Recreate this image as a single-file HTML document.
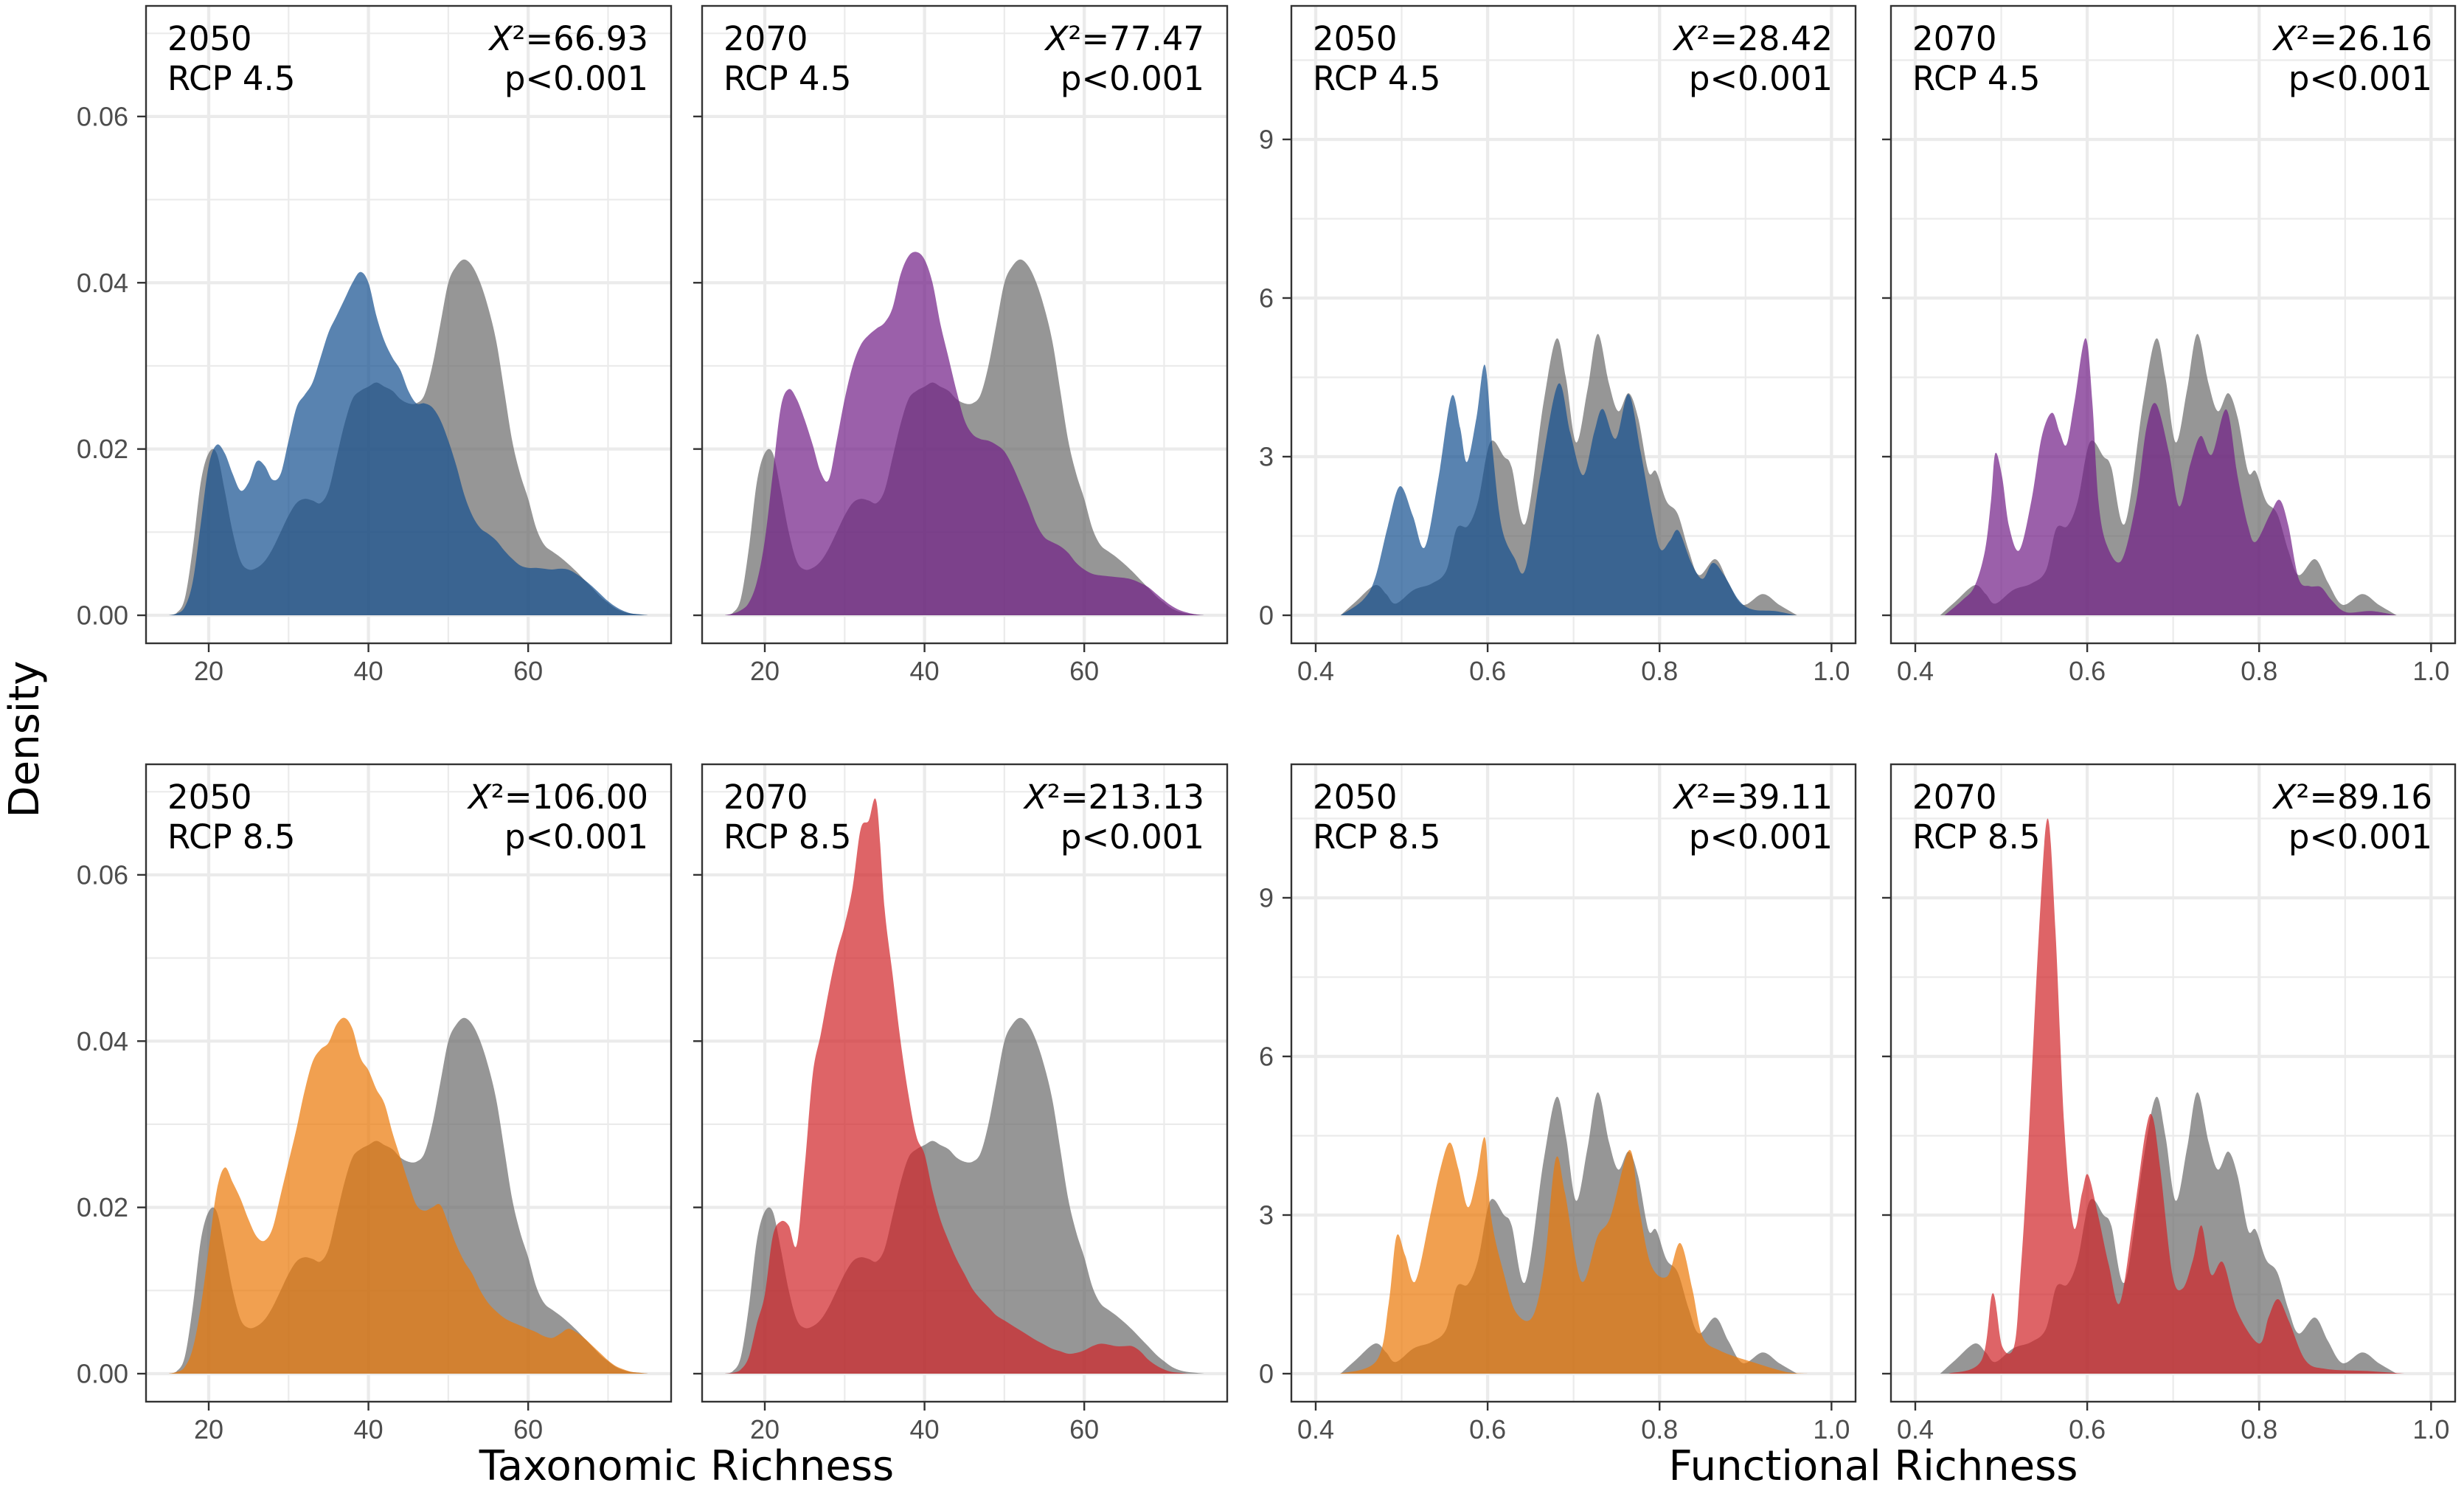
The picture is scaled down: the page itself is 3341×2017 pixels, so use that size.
<!DOCTYPE html>
<html><head><meta charset="utf-8"><style>
html,body{margin:0;padding:0;background:#fff;}
svg{display:block;}
</style></head><body>
<svg id="chart" width="3341" height="2017" viewBox="0 0 3341 2017" xmlns="http://www.w3.org/2000/svg">
<rect width="3341" height="2017" fill="#fff"/>
<g id="panels"></g>
<text x="931" y="2006" text-anchor="middle" font-family="DejaVu Sans, sans-serif" font-size="56" fill="#000">Taxonomic Richness</text>
<text x="2540" y="2006" text-anchor="middle" font-family="DejaVu Sans, sans-serif" font-size="56" fill="#000">Functional Richness</text>
<text x="0" y="0" transform="translate(52,1002) rotate(-90)" text-anchor="middle" font-family="DejaVu Sans, sans-serif" font-size="56" fill="#000">Density</text>
</svg>
<script>
const taxX = [15,16,17,18,19,20,21,22,23,24,25,26,27,28,29,30,31,32,33,34,35,36,37,38,39,40,41,42,43,44,45,46,47,48,49,50,51,52,53,54,55,56,57,58,59,60,61,62,63,64,65,66,67,68,69,70,71,72,73,74,75];
const taxBaseline = [0,0.0003,0.002,0.008,0.016,0.0195,0.0195,0.015,0.010,0.0065,0.0055,0.0057,0.0065,0.008,0.010,0.012,0.0135,0.014,0.0138,0.0135,0.015,0.019,0.023,0.026,0.027,0.0275,0.028,0.0275,0.027,0.026,0.0255,0.0255,0.0265,0.030,0.035,0.040,0.042,0.0428,0.042,0.040,0.037,0.033,0.027,0.021,0.017,0.014,0.0105,0.0085,0.0077,0.007,0.0062,0.0053,0.0043,0.0033,0.0023,0.0015,0.0008,0.0004,0.0002,0.0001,0];
const tax2050rcp45 = [0,0.0002,0.001,0.004,0.011,0.018,0.0205,0.0195,0.017,0.015,0.016,0.0185,0.018,0.0163,0.017,0.021,0.025,0.0265,0.028,0.031,0.034,0.036,0.038,0.040,0.0413,0.040,0.036,0.033,0.031,0.0295,0.027,0.0255,0.0255,0.025,0.0235,0.021,0.018,0.0145,0.012,0.0105,0.0098,0.009,0.0078,0.0068,0.006,0.0057,0.0057,0.0056,0.0055,0.0056,0.0055,0.005,0.0043,0.0035,0.0026,0.0017,0.001,0.0005,0.0002,0.0001,0];
const tax2070rcp45 = [0,0.0002,0.0006,0.0015,0.004,0.009,0.017,0.025,0.0272,0.026,0.0235,0.0205,0.0172,0.0163,0.021,0.026,0.030,0.0325,0.0337,0.0345,0.0352,0.037,0.041,0.0432,0.0437,0.0428,0.040,0.035,0.031,0.027,0.0235,0.0218,0.0212,0.021,0.0205,0.0197,0.018,0.0158,0.0135,0.011,0.0094,0.0088,0.0083,0.0075,0.0063,0.0055,0.005,0.0048,0.0047,0.0046,0.0045,0.0043,0.0039,0.0034,0.0026,0.0018,0.0011,0.0006,0.0003,0.0001,0];
const tax2050rcp85 = [0,0.0002,0.0008,0.003,0.008,0.015,0.022,0.0248,0.023,0.021,0.0185,0.0165,0.016,0.0175,0.0215,0.0255,0.0295,0.034,0.0375,0.039,0.0398,0.042,0.0428,0.0415,0.038,0.0365,0.0342,0.0325,0.029,0.026,0.023,0.0203,0.0196,0.020,0.0203,0.018,0.0155,0.0135,0.012,0.010,0.0085,0.0075,0.0067,0.0062,0.0058,0.0054,0.005,0.0045,0.0043,0.0048,0.0054,0.005,0.0043,0.0034,0.0025,0.0016,0.0009,0.0005,0.0002,0.0001,0];
const tax2070rcp85 = [0,0.0001,0.0005,0.002,0.006,0.0095,0.0165,0.0183,0.0178,0.0155,0.025,0.036,0.0408,0.046,0.0506,0.054,0.0585,0.0655,0.0665,0.0687,0.056,0.048,0.040,0.0335,0.0285,0.0264,0.022,0.0185,0.016,0.0138,0.012,0.0102,0.009,0.008,0.007,0.0064,0.0058,0.0052,0.0046,0.004,0.0035,0.003,0.0027,0.0024,0.0025,0.0028,0.0033,0.0036,0.0035,0.0033,0.0033,0.0033,0.0027,0.0017,0.001,0.0005,0.0002,0.0001,0,0,0];

const funcBaselineX = [0.429,0.446,0.469,0.482,0.493,0.514,0.535,0.552,0.564,0.577,0.589,0.603,0.619,0.628,0.644,0.665,0.680,0.691,0.703,0.716,0.728,0.741,0.752,0.764,0.775,0.787,0.796,0.808,0.821,0.834,0.846,0.865,0.880,0.897,0.920,0.939,0.960];
const funcBaselineY = [0,0.25,0.57,0.4,0.22,0.48,0.6,0.85,1.64,1.69,2.16,3.27,3.0,2.8,1.74,4.02,5.23,4.49,3.27,4.25,5.32,4.39,3.86,4.2,3.74,2.72,2.72,2.16,1.92,1.22,0.76,1.06,0.62,0.2,0.4,0.2,0];
const func2050rcp45X = [0.429,0.455,0.469,0.484,0.498,0.513,0.527,0.543,0.558,0.568,0.576,0.587,0.597,0.606,0.616,0.631,0.644,0.661,0.682,0.696,0.711,0.724,0.734,0.749,0.764,0.778,0.791,0.801,0.812,0.822,0.837,0.850,0.862,0.875,0.892,0.908,0.934,0.959];
const func2050rcp45Y = [0,0.29,0.7,1.69,2.44,1.88,1.29,2.62,4.14,3.55,2.9,3.74,4.73,3.09,1.69,1.09,0.88,2.62,4.37,3.46,2.65,3.46,3.9,3.34,4.18,3.09,1.92,1.25,1.41,1.6,0.99,0.69,0.99,0.76,0.29,0.11,0.08,0];
const func2070rcp45X = [0.434,0.455,0.469,0.481,0.488,0.493,0.501,0.509,0.521,0.535,0.547,0.559,0.568,0.576,0.585,0.598,0.606,0.613,0.623,0.640,0.657,0.669,0.680,0.695,0.707,0.720,0.732,0.745,0.762,0.775,0.787,0.796,0.813,0.824,0.834,0.846,0.859,0.872,0.884,0.901,0.930,0.960];
const func2070rcp45Y = [0,0.29,0.55,1.22,2.16,3.06,2.62,1.69,1.23,2.16,3.37,3.83,3.46,3.23,4.02,5.24,4.02,2.16,1.32,1.04,2.16,3.55,4.0,3.09,2.06,2.86,3.39,3.04,3.89,2.62,1.69,1.39,1.92,2.18,1.69,0.69,0.55,0.53,0.29,0.06,0.08,0];
const func2050rcp85X = [0.428,0.471,0.485,0.494,0.504,0.516,0.533,0.545,0.556,0.566,0.577,0.587,0.597,0.604,0.619,0.633,0.652,0.666,0.679,0.690,0.709,0.728,0.743,0.765,0.776,0.790,0.809,0.824,0.838,0.850,0.871,0.910,0.948,0.972];
const func2050rcp85Y = [0,0.25,1.34,2.6,2.24,1.75,2.97,3.87,4.37,3.87,3.15,3.69,4.46,2.97,1.88,1.16,1.07,2.06,4.05,3.42,1.75,2.6,2.97,4.23,3.15,2.06,1.84,2.47,1.61,0.7,0.43,0.21,0.03,0];
const func2070rcp85X = [0.439,0.477,0.490,0.501,0.515,0.522,0.530,0.544,0.554,0.563,0.573,0.584,0.594,0.601,0.613,0.625,0.638,0.654,0.668,0.676,0.685,0.699,0.711,0.723,0.733,0.744,0.758,0.775,0.800,0.811,0.822,0.835,0.854,0.878,0.926,0.969];
const func2070rcp85Y = [0,0.25,1.52,0.52,0.52,1.8,3.87,8.39,10.5,8.39,4.77,2.78,3.42,3.76,2.97,2.06,1.34,2.97,4.59,4.86,3.87,1.88,1.61,2.15,2.8,1.88,2.1,1.16,0.57,1.07,1.41,0.98,0.25,0.09,0.05,0];

const taxYTicks = [0, 0.02, 0.04, 0.06];
const taxYTickLabels = ["0.00", "0.02", "0.04", "0.06"];
const taxYMinor = [0.01, 0.03, 0.05, 0.07];
const taxXTicks = [20, 40, 60];
const taxXTickLabels = ["20", "40", "60"];
const taxXMinor = [30, 50, 70];
const funcYTicks = [0, 3, 6, 9];
const funcYTickLabels = ["0", "3", "6", "9"];
const funcYMinor = [1.5, 4.5, 7.5, 10.5];
const funcXTicks = [0.4, 0.6, 0.8, 1.0];
const funcXTickLabels = ["0.4", "0.6", "0.8", "1.0"];
const funcXMinor = [0.5, 0.7, 0.9];

const NS = "http://www.w3.org/2000/svg";
const COLORS = {blue:"rgb(19,79,142)", purple:"rgb(112,28,134)", orange:"rgb(235,119,5)", red:"rgb(208,34,38)", gray:"rgb(105,105,105)"};

const panels = [
  {name:"tax-2050-rcp45", kind:"tax", left:198, top:8, w:712, year:"2050", rcp:"RCP 4.5", chi:"=66.93", color:"blue", xs:taxX, ys:tax2050rcp45, yLabels:true},
  {name:"tax-2070-rcp45", kind:"tax", left:952, top:8, w:712, year:"2070", rcp:"RCP 4.5", chi:"=77.47", color:"purple", xs:taxX, ys:tax2070rcp45, yLabels:false},
  {name:"func-2050-rcp45", kind:"func", left:1751, top:8, w:765, year:"2050", rcp:"RCP 4.5", chi:"=28.42", color:"blue", xs:func2050rcp45X, ys:func2050rcp45Y, yLabels:true},
  {name:"func-2070-rcp45", kind:"func", left:2564, top:8, w:765, year:"2070", rcp:"RCP 4.5", chi:"=26.16", color:"purple", xs:func2070rcp45X, ys:func2070rcp45Y, yLabels:false},
  {name:"tax-2050-rcp85", kind:"tax", left:198, top:1036, w:712, year:"2050", rcp:"RCP 8.5", chi:"=106.00", color:"orange", xs:taxX, ys:tax2050rcp85, yLabels:true},
  {name:"tax-2070-rcp85", kind:"tax", left:952, top:1036, w:712, year:"2070", rcp:"RCP 8.5", chi:"=213.13", color:"red", xs:taxX, ys:tax2070rcp85, yLabels:false},
  {name:"func-2050-rcp85", kind:"func", left:1751, top:1036, w:765, year:"2050", rcp:"RCP 8.5", chi:"=39.11", color:"orange", xs:func2050rcp85X, ys:func2050rcp85Y, yLabels:true},
  {name:"func-2070-rcp85", kind:"func", left:2564, top:1036, w:765, year:"2070", rcp:"RCP 8.5", chi:"=89.16", color:"red", xs:func2070rcp85X, ys:func2070rcp85Y, yLabels:false}
];
const H = 864;
const DOM = {
  tax: {xmin:12.15, xmax:77.9, ymin:-0.00337, ymax:0.0733},
  func:{xmin:0.3717, xmax:1.028, ymin:-0.53, ymax:11.525}
};

function mk(tag, attrs, parent){
  const e = document.createElementNS(NS, tag);
  for (const k in attrs) e.setAttribute(k, attrs[k]);
  parent.appendChild(e);
  return e;
}

function smoothPath(pts, base){
  let d = "M" + pts[0][0].toFixed(1) + "," + base.toFixed(1) + " L" + pts[0][0].toFixed(1) + "," + pts[0][1].toFixed(1);
  for (let i = 0; i < pts.length - 1; i++){
    const p0 = pts[Math.max(0,i-1)], p1 = pts[i], p2 = pts[i+1], p3 = pts[Math.min(pts.length-1,i+2)];
    let c1x = p1[0] + (p2[0]-p0[0])/6, c1y = p1[1] + (p2[1]-p0[1])/6;
    let c2x = p2[0] - (p3[0]-p1[0])/6, c2y = p2[1] - (p3[1]-p1[1])/6;
    c1x = Math.max(p1[0], Math.min(p2[0], c1x));
    c2x = Math.max(p1[0], Math.min(p2[0], c2x));
    c1y = Math.min(base, c1y); c2y = Math.min(base, c2y);
    d += " C" + c1x.toFixed(1) + "," + c1y.toFixed(1) + " " + c2x.toFixed(1) + "," + c2y.toFixed(1) + " " + p2[0].toFixed(1) + "," + p2[1].toFixed(1);
  }
  d += " L" + pts[pts.length-1][0].toFixed(1) + "," + base.toFixed(1) + " Z";
  return d;
}

const root = document.getElementById("panels");
panels.forEach(function(p){
  const dm = DOM[p.kind];
  const sx = function(v){ return p.left + (v - dm.xmin) / (dm.xmax - dm.xmin) * p.w; };
  const sy = function(v){ return p.top + H - (v - dm.ymin) / (dm.ymax - dm.ymin) * H; };
  const g = mk("g", {}, root);
  
  

  const isTax = p.kind === "tax";
  const yT = isTax ? taxYTicks : funcYTicks, yL = isTax ? taxYTickLabels : funcYTickLabels, yM = isTax ? taxYMinor : funcYMinor;
  const xT = isTax ? taxXTicks : funcXTicks, xL = isTax ? taxXTickLabels : funcXTickLabels, xM = isTax ? taxXMinor : funcXMinor;

  yM.forEach(function(v){ const l = mk("line", {x1:p.left, x2:p.left+p.w, y1:sy(v), y2:sy(v), stroke:"#ebebeb", "stroke-width":2.2}, g);
    
     });
  xM.forEach(function(v){ const l = mk("line", {x1:sx(v), x2:sx(v), y1:p.top, y2:p.top+H, stroke:"#ebebeb", "stroke-width":2.2}, g);
    
     });
  yT.forEach(function(v){ const l = mk("line", {x1:p.left, x2:p.left+p.w, y1:sy(v), y2:sy(v), stroke:"#ebebeb", "stroke-width":4.3}, g);
    
     });
  xT.forEach(function(v){ const l = mk("line", {x1:sx(v), x2:sx(v), y1:p.top, y2:p.top+H, stroke:"#ebebeb", "stroke-width":4.3}, g);
    
     });

  const bx = isTax ? taxX : funcBaselineX, by = isTax ? taxBaseline : funcBaselineY;
  const base = sy(0);
  const gp = bx.map(function(v,i){ return [sx(v), sy(by[i])]; });
  const gray = mk("path", {d:smoothPath(gp, base), fill:COLORS.gray, "fill-opacity":0.7}, g);
  
  
  const cp = p.xs.map(function(v,i){ return [sx(v), sy(p.ys[i])]; });
  const col = mk("path", {d:smoothPath(cp, base), fill:COLORS[p.color], "fill-opacity":0.7}, g);
  
  

  const b = mk("rect", {x:p.left, y:p.top, width:p.w, height:H, fill:"none", stroke:"#333", "stroke-width":2.4}, g);
  
  

  yT.forEach(function(v,i){
    const t = mk("line", {x1:p.left-12, x2:p.left, y1:sy(v), y2:sy(v), stroke:"#333", "stroke-width":2.4}, g);
    
    
    if (p.yLabels){
      const tx = mk("text", {x:p.left-24, y:sy(v)+12.5, "text-anchor":"end", "font-family":"Liberation Sans, Arial, sans-serif", "font-size":36, fill:"#4d4d4d"}, g);
      tx.textContent = yL[i];
      
      
    }
  });
  xT.forEach(function(v,i){
    const t = mk("line", {x1:sx(v), x2:sx(v), y1:p.top+H, y2:p.top+H+12, stroke:"#333", "stroke-width":2.4}, g);
    
    
    const tx = mk("text", {x:sx(v), y:p.top+H+50, "text-anchor":"middle", "font-family":"Liberation Sans, Arial, sans-serif", "font-size":36, fill:"#4d4d4d"}, g);
    tx.textContent = xL[i];
    
    
  });

  const font = "DejaVu Sans, Verdana, sans-serif";
  const a1 = mk("text", {x:p.left+29, y:p.top+60, "font-family":font, "font-size":45, fill:"#000"}, g);
  a1.textContent = p.year;
  
  
  const a2 = mk("text", {x:p.left+29, y:p.top+114, "font-family":font, "font-size":45, fill:"#000"}, g);
  a2.textContent = p.rcp;
  
  
  const a3 = mk("text", {x:p.left+p.w-31, y:p.top+60, "text-anchor":"end", "font-family":font, "font-size":45, fill:"#000"}, g);
  const ts = mk("tspan", {"font-style":"italic"}, a3);
  ts.textContent = "X";
  a3.appendChild(document.createTextNode("\u00B2" + p.chi));
  
  
  const a4 = mk("text", {x:p.left+p.w-31, y:p.top+114, "text-anchor":"end", "font-family":font, "font-size":45, fill:"#000"}, g);
  a4.textContent = "p<0.001";
  
  
});
</script>
</body></html>
